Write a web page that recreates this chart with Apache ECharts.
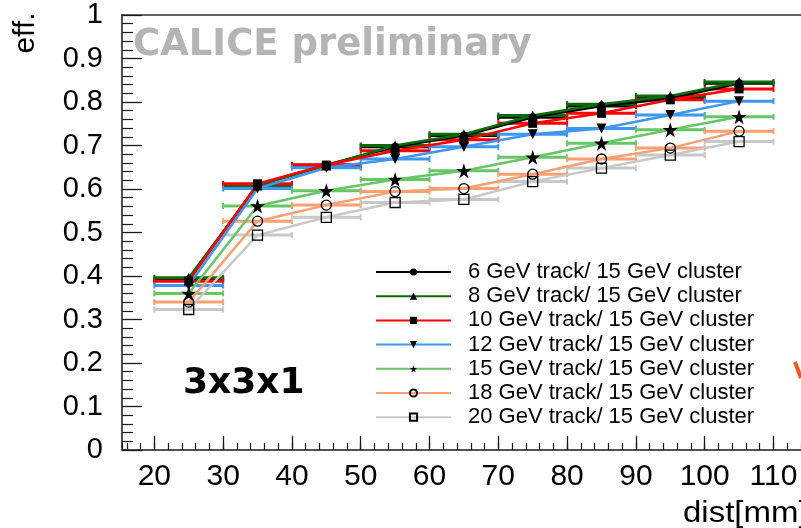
<!DOCTYPE html>
<html>
<head>
<meta charset="utf-8">
<script src="https://cdn.jsdelivr.net/npm/echarts@6/dist/echarts.min.js"></script>
<style>
  html, body { margin: 0; padding: 0; background: #fff; }
  #chart { width: 801px; height: 528px; }
</style>
</head>
<body>
<div id="chart"></div>
<script>
// Distance bins (bin centre, mm) and half bin width
const dist = [25, 35, 45, 55, 65, 75, 85, 95, 105];
const binHalfWidth = 5;

const seriesNames = [
  '6 GeV track/ 15 GeV cluster',
  '8 GeV track/ 15 GeV cluster',
  '10 GeV track/ 15 GeV cluster',
  '12 GeV track/ 15 GeV cluster',
  '15 GeV track/ 15 GeV cluster',
  '18 GeV track/ 15 GeV cluster',
  '20 GeV track/ 15 GeV cluster'
];

// Efficiency per distance bin
const eff6  = [0.392, 0.610, 0.655, 0.697, 0.723, 0.765, 0.791, 0.808, 0.843];
const eff8  = [0.396, 0.608, 0.654, 0.700, 0.726, 0.769, 0.795, 0.814, 0.846];
const eff10 = [0.388, 0.612, 0.655, 0.688, 0.713, 0.751, 0.774, 0.805, 0.830];
const eff12 = [0.378, 0.601, 0.649, 0.669, 0.697, 0.726, 0.739, 0.770, 0.802];
const eff15 = [0.360, 0.561, 0.596, 0.622, 0.642, 0.673, 0.705, 0.736, 0.766];
const eff18 = [0.340, 0.526, 0.563, 0.594, 0.601, 0.634, 0.669, 0.694, 0.733];
const eff20 = [0.323, 0.494, 0.535, 0.569, 0.576, 0.617, 0.648, 0.678, 0.709];

const effValues = [eff6, eff8, eff10, eff12, eff15, eff18, eff20];

// Styling
const lineColors = ['#000000', '#0b6b0b', '#ff0000', '#3d96f0', '#66c666', '#f7a072', '#c8c8c8'];
const STAR = 'path://M50,0 L61,35 L98,35 L68,57 L79,91 L50,70 L21,91 L32,57 L2,35 L39,35 Z';
const markerStyles = [
  { symbol: 'circle',   size: 8,  rotate: 0,   fill: '#000' },
  { symbol: 'triangle', size: 10, rotate: 0,   fill: '#000' },
  { symbol: 'rect',     size: 9,  rotate: 0,   fill: '#000' },
  { symbol: 'triangle', size: 10, rotate: 180, fill: '#000' },
  { symbol: STAR,       size: 15, rotate: 0,   fill: '#000' },
  { symbol: 'circle',   size: 10, rotate: 0,   fill: 'rgba(255,255,255,0)', open: true },
  { symbol: 'rect',     size: 10, rotate: 0,   fill: 'rgba(255,255,255,0)', open: true }
];

const X_MIN = 15.3, X_MAX = 114;
const AXIS_COLOR = '#1a1a1a';
const LABEL_FONT = 'Liberation Sans';

const lineSeries = seriesNames.map((name, i) => {
  const m = markerStyles[i];
  return {
    type: 'line',
    name: name,
    xAxisIndex: 0,
    yAxisIndex: 0,
    z: 3,
    data: dist.map((d, k) => [d, effValues[i][k]]),
    symbol: m.symbol,
    symbolSize: m.size,
    symbolRotate: m.rotate,
    showAllSymbol: true,
    lineStyle: { color: lineColors[i], width: 2.5 },
    itemStyle: m.open
      ? { color: m.fill, borderColor: '#000', borderWidth: 1.3 }
      : { color: m.fill, borderWidth: 0 },
    emphasis: { disabled: true },
    animation: false
  };
});

const errorSeries = seriesNames.map((name, i) => ({
  type: 'custom',
  name: name + ' (bin width)',
  xAxisIndex: 0,
  yAxisIndex: 0,
  z: 2,
  silent: true,
  animation: false,
  data: dist.map((d, k) => [d - binHalfWidth, d + binHalfWidth, effValues[i][k]]),
  encode: { x: [0, 1], y: 2 },
  renderItem: function (params, api) {
    const lo = api.coord([api.value(0), api.value(2)]);
    const hi = api.coord([api.value(1), api.value(2)]);
    const cap = 3;
    const col = lineColors[i];
    return {
      type: 'group',
      children: [
        { type: 'line', shape: { x1: lo[0], y1: lo[1], x2: hi[0], y2: hi[1] },
          style: { stroke: col, lineWidth: 3 } },
        { type: 'line', shape: { x1: lo[0], y1: lo[1] - cap, x2: lo[0], y2: lo[1] + cap },
          style: { stroke: col, lineWidth: 2 } },
        { type: 'line', shape: { x1: hi[0], y1: hi[1] - cap, x2: hi[0], y2: hi[1] + cap },
          style: { stroke: col, lineWidth: 2 } }
      ]
    };
  }
}));

const chart = echarts.init(document.getElementById('chart'), null, { renderer: 'canvas' });

chart.setOption({
  backgroundColor: '#ffffff',
  animation: false,
  grid: { left: 122, right: 0, top: 15, bottom: 78, outerBoundsMode: 'none' },
  xAxis: [
    {
      type: 'value', position: 'bottom', min: X_MIN, max: X_MAX, splitNumber: 10,
      axisLine: { show: true, onZero: false, lineStyle: { color: AXIS_COLOR, width: 1.5 } },
      axisTick: { show: true, inside: true, length: 14, lineStyle: { color: AXIS_COLOR, width: 1.3 } },
      axisLabel: {
        show: true, margin: 12, fontSize: 30, fontFamily: LABEL_FONT, color: '#000',
        showMinLabel: false, showMaxLabel: false,
        formatter: v => (Math.abs(v % 10) < 1e-6 ? String(v) : '')
      },
      splitLine: { show: false }
    },
    {
      // finer 2 mm ticks
      type: 'value', position: 'bottom', min: X_MIN, max: X_MAX, splitNumber: 50,
      axisLine: { show: false },
      axisTick: { show: true, inside: true, length: 7, lineStyle: { color: AXIS_COLOR, width: 1.2 } },
      axisLabel: { show: false },
      splitLine: { show: false }
    },
    {
      // upper frame line
      type: 'value', position: 'top', min: X_MIN, max: X_MAX,
      axisLine: { show: true, onZero: false, lineStyle: { color: '#333', width: 1.5 } },
      axisTick: { show: false },
      axisLabel: { show: false },
      splitLine: { show: false }
    }
  ],
  yAxis: [
    {
      type: 'value', min: 0, max: 1, interval: 0.1,
      axisLine: { show: true, onZero: false, lineStyle: { color: AXIS_COLOR, width: 1.5 } },
      axisTick: { show: true, inside: true, length: 20, lineStyle: { color: AXIS_COLOR, width: 1.3 } },
      minorTick: { show: true, splitNumber: 5, length: 11, lineStyle: { color: AXIS_COLOR, width: 1.2 } },
      axisLabel: { show: true, margin: 19, fontSize: 29, fontFamily: LABEL_FONT, color: '#000' },
      splitLine: { show: false }
    }
  ],
  legend: {
    data: seriesNames,
    orient: 'vertical',
    left: 375,
    top: 260,
    padding: 0,
    itemWidth: 75,
    itemHeight: 9,
    itemGap: 0.2,
    selectedMode: false,
    textStyle: {
      fontSize: 22, fontFamily: LABEL_FONT, color: '#000',
      lineHeight: 24, padding: [0, 0, 0, 12]
    }
  },
  graphic: [
    {
      type: 'text', x: 133, y: 45, z: 10,
      style: {
        text: 'CALICE preliminary', fill: '#b4b4b4',
        fontSize: 37, fontWeight: 'bold', fontFamily: 'DejaVu Sans',
        align: 'left', verticalAlign: 'middle'
      }
    },
    {
      type: 'text', x: 183, y: 384, z: 10,
      style: {
        text: '3x3x1', fill: '#000',
        fontSize: 36, fontWeight: 'bold', fontFamily: 'DejaVu Sans',
        align: 'left', verticalAlign: 'middle'
      }
    },
    {
      type: 'text', x: 26, y: 33, rotation: Math.PI / 2, z: 10,
      style: {
        text: 'eff.', fill: '#000', fontSize: 30, fontFamily: LABEL_FONT,
        align: 'center', verticalAlign: 'middle'
      }
    },
    {
      type: 'text', x: 683, y: 514, scaleX: 1.1, z: 10,
      style: {
        text: 'dist[mm]', fill: '#000', fontSize: 30, fontFamily: LABEL_FONT,
        align: 'left', verticalAlign: 'middle'
      }
    },
    {
      type: 'line', z: 10,
      shape: { x1: 795, y1: 362, x2: 801, y2: 378 },
      style: { stroke: '#f2551e', lineWidth: 4 }
    }
  ],
  series: lineSeries.concat(errorSeries)
});
</script>
</body>
</html>
